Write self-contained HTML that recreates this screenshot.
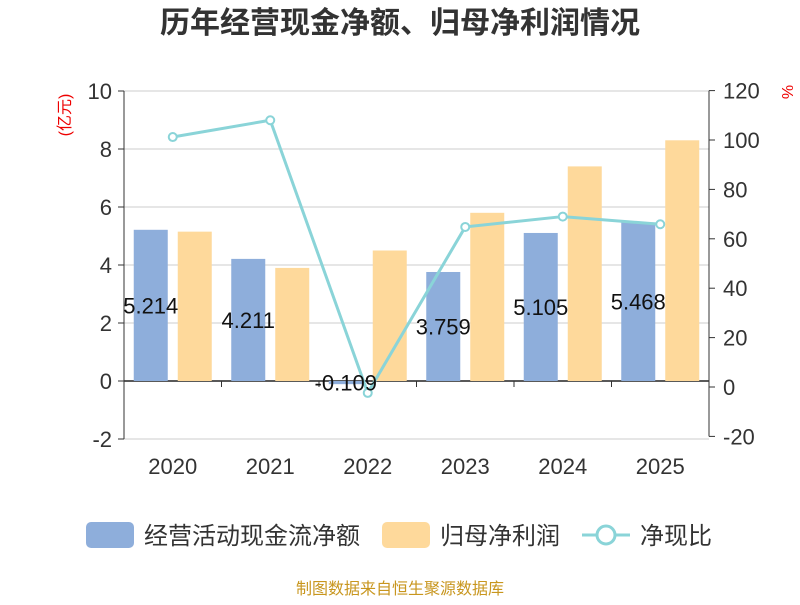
<!DOCTYPE html>
<html><head><meta charset="utf-8"><style>
body{margin:0;background:#fff;width:800px;height:600px;overflow:hidden}
svg{font-family:"Liberation Sans","Noto Sans CJK SC",sans-serif}
</style></head><body>
<svg id="c" width="800" height="600">
<text x="400" y="33" text-anchor="middle" font-size="30" font-weight="bold" fill="#333">历年经营现金净额、归母净利润情况</text>
<text transform="translate(70,115) rotate(-90)" text-anchor="middle" font-size="16" fill="#e00">(亿元)</text>
<text transform="translate(782,92) rotate(90)" text-anchor="middle" font-size="16" fill="#e00">%</text>
<g id="grid"></g><g id="bars"></g><g id="axes"></g><g id="line"></g><g id="labels"></g>
<g>
<rect x="86" y="522" width="48" height="26" rx="5" fill="#8eaedb"/>
<text x="144" y="544" font-size="24" fill="#333">经营活动现金流净额</text>
<rect x="382" y="522" width="48" height="26" rx="5" fill="#fed99b"/>
<text x="440" y="544" font-size="24" fill="#333">归母净利润</text>
<line x1="582" y1="535" x2="630" y2="535" stroke="#8ad4d8" stroke-width="3"/>
<circle cx="606" cy="535" r="9" fill="#fff" stroke="#8ad4d8" stroke-width="3"/>
<text x="640" y="544" font-size="24" fill="#333">净现比</text>
</g>
<text x="400" y="594" text-anchor="middle" font-size="16" fill="#c8961e">制图数据来自恒生聚源数据库</text>
</svg>
<script>
const categories=["2020","2021","2022","2023","2024","2025"];
const cashflow=[5.214,4.211,-0.109,3.759,5.105,5.468];
const profit=[5.15,3.9,4.5,5.8,7.4,8.3];
const ratio=[101.2,108,-2.4,64.8,69,65.9];
const leftTicks=[-2,0,2,4,6,8,10];
const rightTicks=[-20,0,20,40,60,80,100,120];
const NS="http://www.w3.org/2000/svg";
const X0=124,X1=709,band=(X1-X0)/categories.length;
const yL=v=>381-v*29;
const yR=v=>387-v*2.47;
function mk(t,a,p){const e=document.createElementNS(NS,t);for(const k in a)e.setAttribute(k,a[k]);document.getElementById(p).appendChild(e);return e;}
leftTicks.forEach(v=>{
 const g=mk("line",{x1:X0,x2:X1,y1:yL(v),y2:yL(v),stroke:v===0?"#222":"#ccc","stroke-width":v===0?1.5:1},"grid");
 
 
 const t=mk("text",{x:X0-12,y:yL(v)+8,"text-anchor":"end","font-size":22,fill:"#333"},"axes");t.textContent=v;
 
 
 mk("line",{x1:X0-6,x2:X0,y1:yL(v),y2:yL(v),stroke:"#333"},"axes");
});
rightTicks.forEach(v=>{
 const t=mk("text",{x:X1+14,y:yR(v)+8,"font-size":22,fill:"#333"},"axes");t.textContent=v;
 
 
 mk("line",{x1:X1,x2:X1+6,y1:yR(v),y2:yR(v),stroke:"#333"},"axes");
});
const la=mk("line",{x1:X0,x2:X0,y1:yL(10),y2:yL(-2),stroke:"#333"},"axes");


const ra=mk("line",{x1:X1,x2:X1,y1:yR(120),y2:yR(-20),stroke:"#333"},"axes");


categories.forEach((c,i)=>{
 const cx=X0+band*(i+0.5);
 mk("line",{x1:X0+band*i,x2:X0+band*i,y1:yL(0),y2:yL(0)+6,stroke:"#333"},"axes");
 const t=mk("text",{x:cx,y:474,"text-anchor":"middle","font-size":22,fill:"#333"},"axes");t.textContent=c;
 
 
 const a=cashflow[i],b=profit[i];
 const r1=mk("rect",{x:cx-39,y:Math.min(yL(a),yL(0)),width:34,height:Math.abs(yL(a)-yL(0)),fill:"#8eaedb"},"bars");
 
 
 const r2=mk("rect",{x:cx+5,y:Math.min(yL(b),yL(0)),width:34,height:Math.abs(yL(b)-yL(0)),fill:"#fed99b"},"bars");
 
 
 const l=mk("text",{x:cx-22,y:(yL(a)+yL(0))/2+8,"text-anchor":"middle","font-size":22,fill:"#111"},"labels");l.textContent=a;
 
 
});
mk("line",{x1:X1,x2:X1,y1:yL(0),y2:yL(0)+6,stroke:"#333"},"axes");
const pts=ratio.map((v,i)=>[X0+band*(i+0.5),yR(v)]);
const pl=mk("polyline",{points:pts.map(p=>p.join(",")).join(" "),fill:"none",stroke:"#8ad4d8","stroke-width":3},"line");


pts.forEach(p=>{
 const c=mk("circle",{cx:p[0],cy:p[1],r:4,fill:"#fff",stroke:"#8ad4d8","stroke-width":2},"line");
 
 
});
</script>
</body></html>
